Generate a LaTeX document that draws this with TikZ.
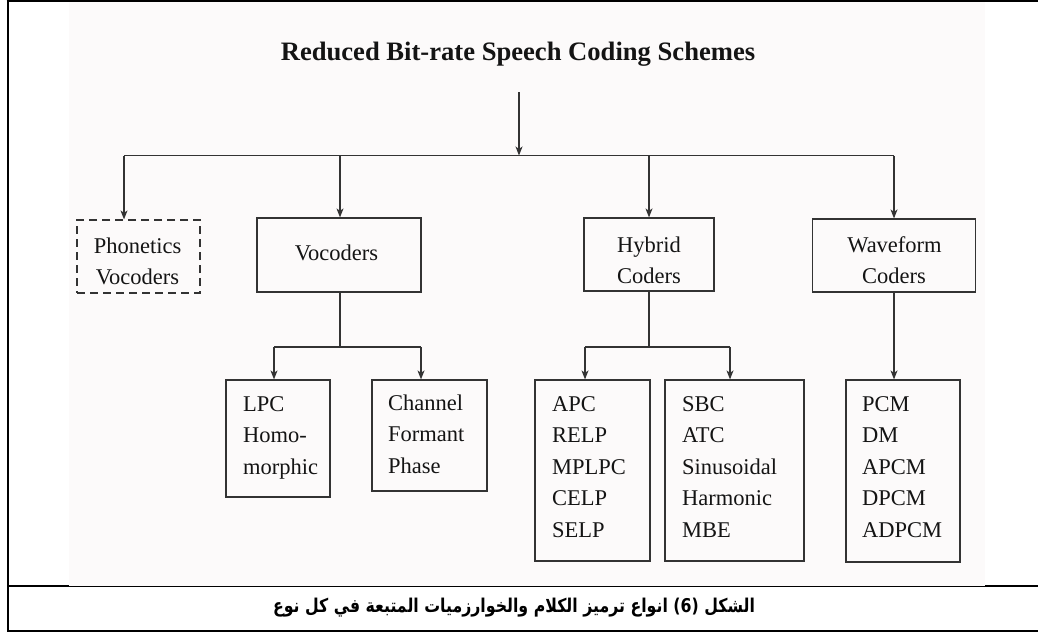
\documentclass[tikz,border=0pt]{standalone}
\usepackage{fontspec}
\setmainfont{Liberation Serif}
\newfontfamily\arabicfont[Script=Arabic]{DejaVu Sans}
\TeXXeTstate=1
\usetikzlibrary{arrows.meta}
\definecolor{ink}{HTML}{333333}
\definecolor{scan}{HTML}{FCFAFA}
\begin{document}
\begin{tikzpicture}[x=1pt,y=-1pt,
  box/.style={draw=ink,line width=1.2pt,inner sep=0pt},
  dbox/.style={box,dash pattern=on 8pt off 5pt},
  lbl/.style={inner sep=0pt,text=black!92,font=\fontsize{22.5}{31.5}\selectfont},
  arr/.style={draw=ink,line width=1.1pt,-{Stealth[length=9pt,width=7pt,inset=2.5pt]}},
  ln/.style={draw=ink,line width=1.1pt},
  frame/.style={draw=black,line width=2pt}]
\useasboundingbox (0,0) rectangle (1038,634);
% frame
\draw[frame] (7.5,0.5) -- (7.5,632);
\draw[frame] (6.5,1.5) -- (1038,1.5);
\draw[frame] (7.5,586) -- (1038,586);
\draw[frame] (7.5,631) -- (1038,631);
\fill[scan] (69,2.4) rectangle (985,585.6);
% title
\node[inner sep=0pt,font=\fontsize{26.6}{30}\selectfont\bfseries,anchor=base,text=black!92] (title) at (518,60) {Reduced Bit-rate Speech Coding Schemes};
% top level boxes
\node[dbox,minimum width=123pt,minimum height=73pt] (phon) at (138.5,256.5) {};
\node[box,minimum width=164pt,minimum height=74pt] (voc) at (339,255) {};
\node[box,minimum width=130pt,minimum height=73pt] (hyb) at (649,254.5) {};
\node[box,minimum width=163pt,minimum height=73pt] (wave) at (894,255.5) {};
\node[lbl,anchor=base] (phonA) at (137.5,253) {Phonetics};
\node[lbl,anchor=base] (phonB) at (137.5,284) {Vocoders};
\node[lbl,anchor=base] (vocA) at (336.5,260) {Vocoders};
\node[lbl,anchor=base] (hybA) at (649,252) {Hybrid};
\node[lbl,anchor=base] (hybB) at (649,283.5) {Coders};
\node[lbl,anchor=base] (waveA) at (894.5,252) {Waveform};
\node[lbl,anchor=base] (waveB) at (894,283.5) {Coders};
% second level boxes
\node[box,minimum width=104pt,minimum height=117pt] (lpc) at (278,438.5) {};
\node[box,minimum width=115pt,minimum height=111pt] (chan) at (429.5,435.5) {};
\node[box,minimum width=115pt,minimum height=181pt] (apc) at (592.5,470.5) {};
\node[box,minimum width=139pt,minimum height=181pt] (sbc) at (734.5,470.5) {};
\node[box,minimum width=114pt,minimum height=182pt] (pcm) at (903,471) {};
\foreach \t [count=\i] in {LPC,Homo-,morphic}
  \node[lbl,anchor=base west] (lpc\i) at (243,{411+31.5*(\i-1)}) {\t};
\foreach \t [count=\i] in {Channel,Formant,Phase}
  \node[lbl,anchor=base west] (chan\i) at (388,{410+31.5*(\i-1)}) {\t};
\foreach \t [count=\i] in {APC,RELP,MPLPC,CELP,SELP}
  \node[lbl,anchor=base west] (apc\i) at (552,{411+31.5*(\i-1)}) {\t};
\foreach \t [count=\i] in {SBC,ATC,Sinusoidal,Harmonic,MBE}
  \node[lbl,anchor=base west] (sbc\i) at (682,{411+31.5*(\i-1)}) {\t};
\foreach \t [count=\i] in {PCM,DM,APCM,DPCM,ADPCM}
  \node[lbl,anchor=base west] (pcm\i) at (862,{411+31.5*(\i-1)}) {\t};
% connectors, level 1
\coordinate (top) at (519,92);
\coordinate (hub) at (519,155.5);
\coordinate (jL) at (124,155.5);
\coordinate (jV) at (340,155.5);
\coordinate (jH) at (649,155.5);
\coordinate (jR) at (894,155.5);
\draw[arr] (top) -- (hub);
\draw[ln] (jL) -- (jR);
\draw[arr] (jL) -- (jL |- phon.north);
\draw[arr] (jV) -- (jV |- voc.north);
\draw[arr] (jH) -- (hyb.north);
\draw[arr] (jR) -- (wave.north);
% connectors, level 2
\coordinate (vj) at (340,347);
\coordinate (vjL) at (274,347);
\coordinate (vjR) at (421,347);
\draw[ln] (vj |- voc.south) -- (vj);
\draw[ln] (vjL) -- (vjR);
\draw[arr] (vjL) -- (vjL |- lpc.north);
\draw[arr] (vjR) -- (vjR |- chan.north);
\coordinate (hj) at (649,347);
\coordinate (hjL) at (585,347);
\coordinate (hjR) at (730,347);
\draw[ln] (hyb.south) -- (hj);
\draw[ln] (hjL) -- (hjR);
\draw[arr] (hjL) -- (hjL |- apc.north);
\draw[arr] (hjR) -- (hjR |- sbc.north);
\draw[arr] (wave.south) -- (wave.south |- pcm.north);
% caption
\node[inner sep=0pt,font=\arabicfont\bfseries\fontsize{19}{22}\selectfont] (cap) at (514,608) {\scalebox{0.83}[1]{\beginR الشكل \beginL(6)\endL{} انواع ترميز الكلام والخوارزميات المتبعة في كل نوع\endR}};
\end{tikzpicture}
\end{document}
